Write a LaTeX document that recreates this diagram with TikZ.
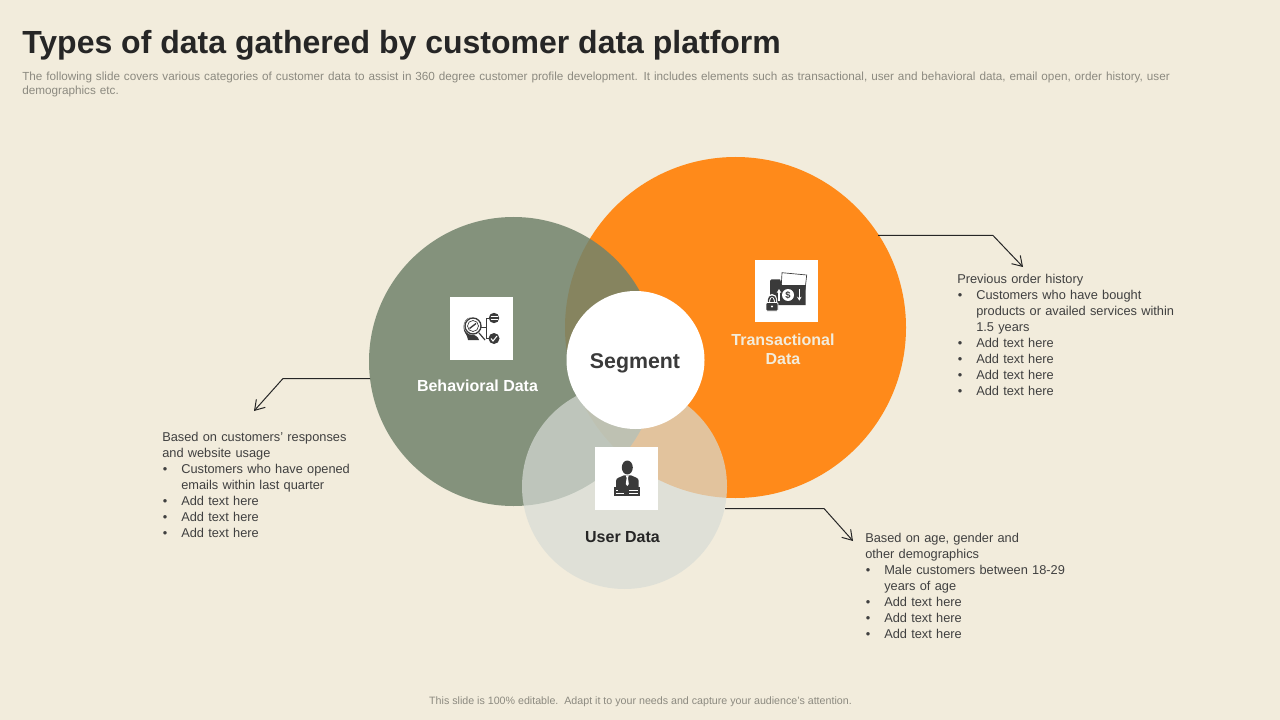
\documentclass[tikz,border=0pt]{standalone}
\usepackage{fontspec}
\setmainfont{Liberation Sans}
\usetikzlibrary{arrows.meta}

\definecolor{pagebg}{HTML}{F2ECDC}
\definecolor{orangeset}{HTML}{FF8A1A}
\definecolor{greenset}{HTML}{71836C}
\definecolor{userset}{HTML}{D7DCD6}
\definecolor{inkdark}{HTML}{3A3A3A}
\definecolor{bodyink}{HTML}{404040}
\definecolor{greyink}{HTML}{8C8A80}

\newcommand{\fitline}[2]{\makebox[\dimexpr 0.75pt*#1+3.5pt\relax][s]{#2}}
\newcommand{\bulit}[1]{\par\hangindent=14.25pt\hangafter=0\noindent\llap{\textbullet\hspace{10.5pt}}#1\par}

\tikzset{
  setcircle/.style={circle,inner sep=0pt,minimum size=#1*0.75pt},
  iconbox/.style={fill=white,inner sep=0pt,minimum width=47.25pt,minimum height=47pt},
  setlabel/.style={font=\fontsize{12}{14.5}\selectfont\bfseries,align=center,text=#1},
  notetext/.style={anchor=north west,inner sep=0pt,text=bodyink,text width=#1*0.75pt,align=left,font=\fontsize{9.6}{12}\selectfont},
  leader/.style={draw=black!85,line width=0.75pt,-{Straight Barb[length=7pt,width=9pt]}},
  icondark/.style={fill=inkdark,draw=none}
}

\begin{document}
\begin{tikzpicture}[x=0.75pt,y=-0.75pt]
\useasboundingbox (0,0) rectangle (1280,720);
\fill[pagebg] (0,0) rectangle (1280,720);

\node[anchor=west,inner sep=0pt,text=black!85,font=\fontsize{24}{29}\selectfont\bfseries] (title) at (22,45.5) {Types of data gathered by customer data platform};
\node[anchor=north west,inner sep=0pt,text=greyink,text width=1220*0.75pt,align=left,font=\fontsize{8.8}{10.5}\selectfont] (subtitle) at (22,71.5) {\fitline{1161}{The following slide covers various categories of customer data to assist in 360 degree customer profile development. It includes elements such as transactional, user and behavioral data, email open, order history, user}\\demographics etc.};

\node[setcircle=341,fill=orangeset] (transact) at (735.5,327.5) {};
\node[setcircle=289,fill=greenset,fill opacity=0.85] (behave) at (513.5,361.5) {};
\node[setcircle=205,fill=userset,fill opacity=0.7] (user) at (624.5,486.5) {};
\node[setcircle=138,fill=white] (segment) at (635.5,360) {};
\node[text=inkdark,inner sep=0pt,font=\fontsize{16}{19}\selectfont\bfseries] (lblsegment) at (635,363) {Segment};

\node[iconbox] (boxbehave) at (481.5,328.5) {};
\node[iconbox] (boxtransact) at (786.5,291) {};
\node[iconbox] (boxuser) at (626.5,478.5) {};

\node[setlabel=white] (lblbehave) at (477.5,386) {Behavioral Data};
\node[setlabel=pagebg] (lbltransact) at (783,349) {Transactional\\Data};
\node[setlabel=black!85] (lbluser) at (622.5,537.5) {User Data};

\fill[icondark] (470.5,327) ellipse (7 and 9.5);
\fill[icondark] (466,334) .. controls (467,337) and (468,338) .. (468,340) -- (479,340) .. controls (478,336) and (474,335) .. (472,334) -- cycle;
\fill[white] (473,326) circle (9);
\draw[inkdark,line width=1pt] (473,326) circle (8);
\draw[inkdark,line width=0.5pt] (473,326) circle (5.5);
\draw[inkdark,line width=1pt] (469.5,328.5) -- (476,323.5);
\draw[inkdark,line width=0.9pt] (479,333) -- (485,340);
\draw[inkdark,line width=0.5pt] (494,318) -- (486.7,318) -- (486.7,338) -- (494,338) (481,327) -- (486.7,327);
\fill[icondark] (494,318) circle (5.2);
\fill[icondark] (494,338.5) circle (5.5);
\draw[white,line width=0.5pt] (490.5,316.5) -- (497.5,316.5) (490.5,319.5) -- (497.5,319.5);
\draw[white,line width=0.8pt] (491,338.5) -- (493,341) -- (497,336);

\draw[inkdark,fill=white,line width=0.5pt] (782,272.7) -- (806.7,275) -- (805,290) -- (781,290) -- cycle;
\fill[icondark] (770,286) -- (770,281) -- (771.5,279.3) -- (780,279.3) -- (782,285) -- (805.5,285) -- (805.5,305) -- (770,305) -- cycle;
\draw[white,line width=0.9pt,-{Stealth[length=3pt,width=3.5pt]}] (779,300.7) -- (779,289);
\draw[white,line width=0.9pt,-{Stealth[length=3pt,width=3.5pt]}] (799.3,289) -- (799.3,300.7);
\fill[white] (788,295) circle (6);
\node[text=inkdark,inner sep=0pt,font=\fontsize{7}{7}\selectfont\bfseries] (dollar) at (788,295) {\$};
\draw[white,line width=2.6pt] (768.5,303) -- (768.5,300) .. controls (768.5,294.5) and (775.5,294.5) .. (775.5,300) -- (775.5,303);
\draw[inkdark,line width=1.1pt] (768.5,303) -- (768.5,300) .. controls (768.5,295) and (775.5,295) .. (775.5,300) -- (775.5,303);
\draw[white,fill=inkdark,rounded corners=0.8pt,line width=0.5pt] (766,302.5) rectangle (778,311);
\fill[white] (772,306.5) circle (1.2);

\fill[icondark] (627.3,467.5) ellipse (5.5 and 7);
\fill[icondark] (616,487) -- (616,481) .. controls (616,477.5) and (620,477.5) .. (624,475.3) -- (631,475.3) .. controls (635,477.5) and (638.7,477.5) .. (638.7,481) -- (638.7,487) -- cycle;
\fill[white] (625.8,475.3) -- (628.8,475.3) -- (628,478) -- (628.8,484) -- (627.3,486) -- (625.8,484) -- (626.6,478) -- cycle;
\fill[icondark] (614,487) rectangle (640,496);
\draw[white,line width=0.4pt] (616,490) -- (618,490) (616,493) -- (624,493);
\draw[white,line width=0.4pt] (629,490) -- (638,490) (629,493) -- (638,493);

\node[notetext=230] (notetransact) at (957,274) {\fitline{128}{Previous order history}
\bulit{\fitline{166}{Customers who have bought}\newline\fitline{199}{products or availed services within}\newline 1.5 years}
\bulit{Add text here}
\bulit{Add text here}
\bulit{Add text here}
\bulit{Add text here}};

\node[notetext=200] (notebehave) at (162,432) {\fitline{186}{Based on customers' responses}\\\fitline{108}{and website usage}
\bulit{\fitline{168}{Customers who have opened}\newline\fitline{142}{emails within last quarter}}
\bulit{Add text here}
\bulit{Add text here}
\bulit{Add text here}};

\node[notetext=212] (noteuser) at (865,533) {\fitline{153}{Based on age, gender and}\\\fitline{113}{other demographics}
\bulit{\fitline{182}{Male customers between 18-29}\newline\fitline{70}{years of age}}
\bulit{Add text here}
\bulit{Add text here}
\bulit{Add text here}};

\coordinate (starttransact) at (878,235.5);
\coordinate (bendtransact) at (993,235.5);
\coordinate (endtransact) at (1023,267);
\coordinate (startbehave) at (370,378.5);
\coordinate (bendbehave) at (283,378.5);
\coordinate (endbehave) at (254,411);
\coordinate (startuser) at (725,508.5);
\coordinate (benduser) at (824,508.5);
\coordinate (enduser) at (853,541);
\draw[leader] (starttransact) -- (bendtransact) -- (endtransact);
\draw[leader] (startbehave) -- (bendbehave) -- (endbehave);
\draw[leader] (startuser) -- (benduser) -- (enduser);

\node[text=greyink,inner sep=0pt,font=\fontsize{8}{10}\selectfont] (footer) at (640.5,702) {This slide is 100\% editable.\ \ Adapt it to your needs and capture your audience's attention.};
\end{tikzpicture}
\end{document}
